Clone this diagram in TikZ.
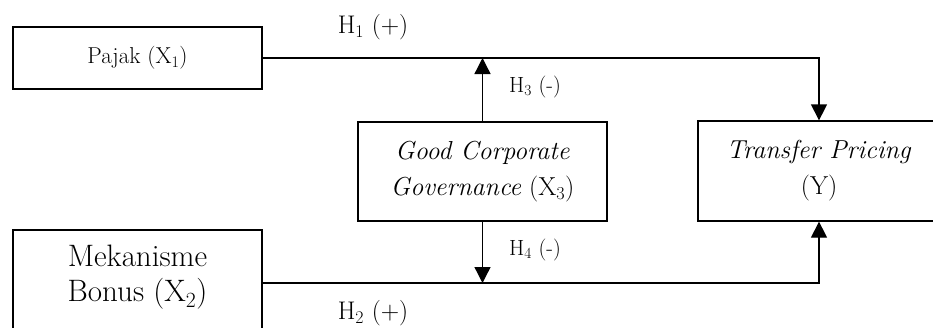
\documentclass[tikz,border=0pt]{standalone}
\usetikzlibrary{arrows.meta,positioning}

\tikzset{
  varbox/.style={draw, line width=1.3pt, inner sep=0pt, align=center},
  bigtxt/.style={font=\fontsize{31}{35}\selectfont, align=center},
  ittxt/.style={font=\fontsize{26}{36}\selectfont, align=center},
  hyp/.style={inner sep=0pt, font=\fontsize{25.5}{30}\selectfont},
  hypsmall/.style={inner sep=0pt, font=\fontsize{22}{24}\selectfont},
  arr/.style={line width=1.3pt, -{Triangle[length=16pt,width=16pt]}}
}

\begin{document}
\begin{tikzpicture}[x=1pt,y=-1pt]
  \useasboundingbox (0,0) rectangle (933,327);
  \clip (0,0) rectangle (933,327);
  % Independent variables
  \node[varbox, minimum width=249pt, minimum height=62pt,
        font=\fontsize{23}{27}\selectfont] (pajak) at (137.5,58) {Pajak (X\textsubscript{1})};
  \node[varbox, minimum width=249pt, minimum height=106pt] (bonus) at (137.5,283) {};
  \node[bigtxt] (bonustxt) at (137.5,277) {Mekanisme\\Bonus (X\textsubscript{2})};
  % Moderating variable
  \node[varbox, ittxt, minimum width=249pt, minimum height=99pt] (gcg) at (482.5,171.5)
    {\textit{Good Corporate}\\\textit{Governance} (X\textsubscript{3})};
  % Dependent variable
  \node[varbox, ittxt, minimum width=242pt, minimum height=100pt] (tp) at (819,171)
    {\textit{Transfer Pricing}\\(Y)};
  % Paths
  \draw[arr] (pajak.east) -| (tp.north);
  \draw[arr] (bonus.east) -| (tp.south);
  \draw[arr] (gcg.north) -- (gcg.north |- pajak.east);
  \draw[arr] (gcg.south) -- (gcg.south |- bonus.east);
  % Hypotheses
  \node[hyp] (h1) at (373,27) {H\textsubscript{1} (+)};
  \node[hyp] (h2) at (373,313) {H\textsubscript{2} (+)};
  \node[hypsmall] (h3) at (535,87) {H\textsubscript{3} (-)};
  \node[hypsmall] (h4) at (535,250) {H\textsubscript{4} (-)};
\end{tikzpicture}
\end{document}
